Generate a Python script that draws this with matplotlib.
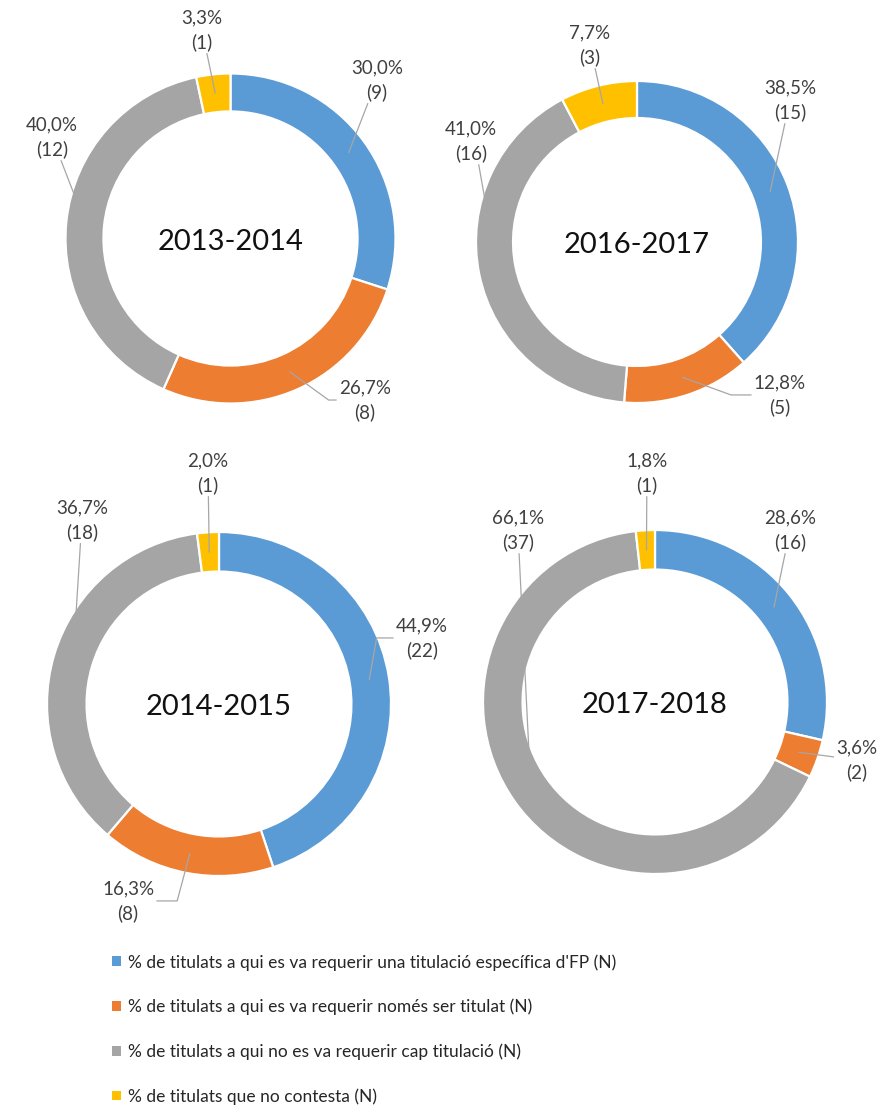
import matplotlib
matplotlib.use("Agg")
import matplotlib.pyplot as plt
from matplotlib.patches import Patch
import numpy as np

plt.rcParams['font.family'] = ['Lato', 'DejaVu Sans']

# ---------------- data ----------------
years = ["2013-2014", "2016-2017", "2014-2015", "2017-2018"]
categories = [
    "% de titulats a qui es va requerir una titulació específica d'FP (N)",
    "% de titulats a qui es va requerir només ser titulat (N)",
    "% de titulats a qui no es va requerir cap titulació (N)",
    "% de titulats que no contesta (N)",
]
counts_2013_2014 = [9, 8, 12, 1]
counts_2016_2017 = [15, 5, 16, 3]
counts_2014_2015 = [22, 8, 18, 1]
counts_2017_2018 = [16, 2, 37, 1]
pct_2013_2014 = [30.0, 26.7, 40.0, 3.3]
pct_2016_2017 = [38.5, 12.8, 41.0, 7.7]
pct_2014_2015 = [44.9, 16.3, 36.7, 2.0]
pct_2017_2018 = [28.6, 3.6, 66.1, 1.8]

colors = ["#5B9BD5", "#ED7D31", "#A5A5A5", "#FFC000"]

# ---------------- layout ----------------
W, H = 884, 1107
fig = plt.figure(figsize=(W / 100, H / 100), dpi=100)
fig.patch.set_facecolor("white")

# centre (px), radius (px)
geom = [
    (230.5, 238.5, 165),
    (637, 242, 161),
    (219, 704, 172),
    (655, 702, 172),
]
# label positions in radius units relative to centre, and optional elbow angle
label_pos = [
    [(0.888, 0.961, None), (0.815, -0.979, -36), (-1.082, 0.615, None), (-0.173, 1.264, None)],
    [(0.950, 0.882, None), (0.888, -0.950, -20), (-1.031, 0.627, -80), (-0.292, 1.224, None)],
    [(1.180, 0.384, 80), (-0.529, -1.145, 75), (-0.797, 1.070, None), (-0.064, 1.343, None)],
    [(0.785, 1.000, None), (1.174, -0.337, None), (-0.797, 1.000, None), (-0.047, 1.331, None)],
]

datasets = [
    (counts_2013_2014, pct_2013_2014),
    (counts_2016_2017, pct_2016_2017),
    (counts_2014_2015, pct_2014_2015),
    (counts_2017_2018, pct_2017_2018),
]

ring_w = 0.23
for i, (year, (cnts, pcts), (cx, cy, r)) in enumerate(zip(years, datasets, geom)):
    ax = fig.add_axes([(cx - r) / W, 1 - (cy + r) / H, 2 * r / W, 2 * r / H])
    wedges, _ = ax.pie(cnts, colors=colors, startangle=90, counterclock=False,
                       radius=1.0,
                       wedgeprops=dict(width=ring_w, edgecolor="white", linewidth=1.6))
    ax.set_xlim(-1, 1)
    ax.set_ylim(-1, 1)
    ax.set_aspect("equal")
    ax.axis("off")
    ax.text(0, -0.02, year, ha="center", va="center", fontsize=21, color="#111111")
    for w, c, p, (lx, ly, elb) in zip(wedges, cnts, pcts, label_pos[i]):
        ang = np.deg2rad((w.theta1 + w.theta2) / 2)
        rr = 1 - ring_w / 2
        ax_, ay_ = rr * np.cos(ang), rr * np.sin(ang)
        txt = f"{p:.1f}".replace(".", ",") + f"%\n({c})"
        if elb is None:
            cs = "arc3,rad=0"
        else:
            cs = f"angle,angleA=0,angleB={elb},rad=0"
        ax.annotate(txt, xy=(ax_, ay_), xytext=(lx, ly), ha="center", va="center",
                    fontsize=13.5, color="#404040", linespacing=1.45,
                    arrowprops=dict(arrowstyle="-", color="#A6A6A6", lw=0.9,
                                    shrinkA=0, shrinkB=0, connectionstyle=cs))

handles = [Patch(facecolor=c, edgecolor="none") for c in colors]
fig.legend(handles, categories, loc="upper left",
           bbox_to_anchor=(112 / W, 1 - 954 / H), frameon=False,
           fontsize=12.5, handlelength=0.5, handleheight=0.5, handletextpad=0.45,
           labelspacing=1.62, borderpad=0, borderaxespad=0, labelcolor="#262626")

fig.savefig("out.png", dpi=100, facecolor="white")
